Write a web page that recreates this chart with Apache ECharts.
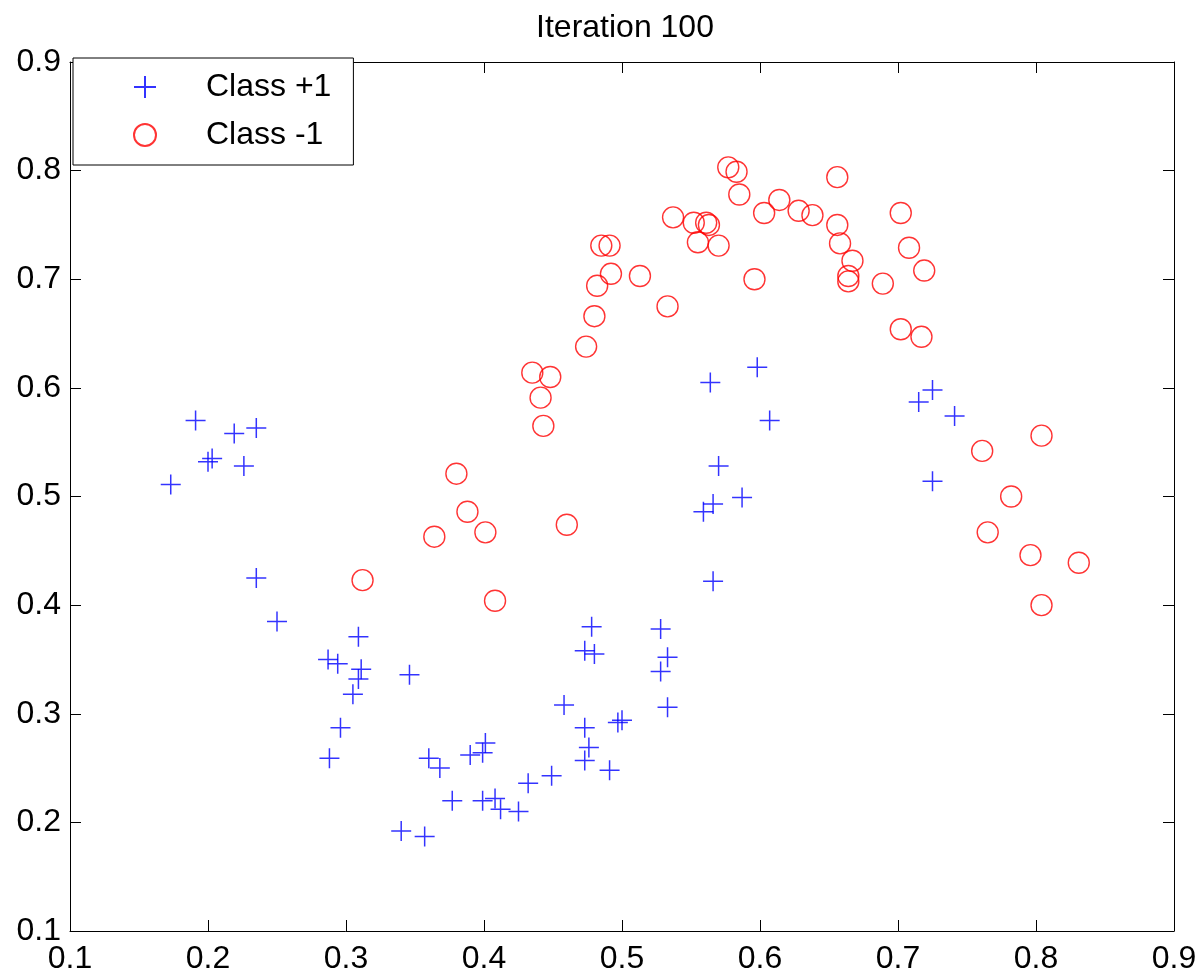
<!DOCTYPE html>
<html>
<head>
<meta charset="utf-8">
<title>Iteration 100</title>
<script src="https://cdn.jsdelivr.net/npm/echarts@6/dist/echarts.min.js"></script>
<style>
    html, body { margin: 0; padding: 0; background: #fff; }
    #chart { width: 1200px; height: 975px; }
</style>
</head>
<body>
<div id="chart"></div>
<script>
// 数据: 点坐标 [x, y]
const classPlus = [
    [0.173, 0.511], [0.191, 0.570], [0.219, 0.558], [0.235, 0.563], [0.200, 0.532],
    [0.203, 0.535], [0.226, 0.528], [0.235, 0.425], [0.250, 0.385], [0.309, 0.371],
    [0.287, 0.350], [0.294, 0.346], [0.311, 0.341], [0.309, 0.332], [0.346, 0.336],
    [0.305, 0.318], [0.296, 0.287], [0.288, 0.259], [0.360, 0.259], [0.368, 0.250],
    [0.401, 0.273], [0.399, 0.264], [0.390, 0.262], [0.458, 0.308], [0.432, 0.236],
    [0.449, 0.243], [0.377, 0.220], [0.399, 0.220], [0.408, 0.222], [0.412, 0.212],
    [0.425, 0.210], [0.340, 0.192], [0.357, 0.187], [0.478, 0.380], [0.473, 0.358],
    [0.480, 0.355], [0.528, 0.378], [0.533, 0.352], [0.528, 0.339], [0.533, 0.306],
    [0.473, 0.287], [0.497, 0.292], [0.500, 0.294], [0.476, 0.269], [0.473, 0.257],
    [0.491, 0.248], [0.566, 0.422], [0.564, 0.605], [0.598, 0.619], [0.607, 0.570],
    [0.570, 0.528], [0.587, 0.499], [0.566, 0.493], [0.559, 0.486], [0.715, 0.587],
    [0.725, 0.598], [0.741, 0.574], [0.725, 0.514]
];

const classMinus = [
    [0.312, 0.423], [0.364, 0.463], [0.380, 0.521], [0.388, 0.486], [0.401, 0.467],
    [0.408, 0.404], [0.460, 0.474], [0.435, 0.614], [0.448, 0.610], [0.441, 0.591],
    [0.443, 0.565], [0.474, 0.638], [0.480, 0.666], [0.482, 0.694], [0.485, 0.731],
    [0.491, 0.731], [0.492, 0.705], [0.513, 0.703], [0.533, 0.675], [0.537, 0.757],
    [0.552, 0.752], [0.561, 0.752], [0.563, 0.750], [0.555, 0.734], [0.570, 0.731],
    [0.577, 0.803], [0.583, 0.799], [0.585, 0.778], [0.596, 0.700], [0.603, 0.761],
    [0.614, 0.773], [0.628, 0.763], [0.638, 0.759], [0.656, 0.794], [0.656, 0.750],
    [0.658, 0.733], [0.667, 0.717], [0.664, 0.703], [0.664, 0.698], [0.689, 0.696],
    [0.702, 0.761], [0.708, 0.729], [0.719, 0.708], [0.702, 0.654], [0.717, 0.647],
    [0.761, 0.542], [0.804, 0.556], [0.782, 0.500], [0.765, 0.467], [0.796, 0.446],
    [0.831, 0.439], [0.804, 0.400]
];

const axisMin = 0.1;
const axisMax = 0.9;
const axisStep = 0.1;

const fontFamily = '"Liberation Sans", Arial, Helvetica, sans-serif';
const plusPath = 'path://M0,10L20,10M10,0L10,20';

const myChart = echarts.init(document.getElementById('chart'));

// 坐标轴公共配置
function makeAxis(position, showLabel, margin) {
    return {
        type: 'value',
        position: position,
        min: axisMin,
        max: axisMax,
        interval: axisStep,
        axisLine: { show: true, onZero: false, lineStyle: { color: '#000', width: 1 } },
        axisTick: { show: true, inside: true, length: 11, lineStyle: { color: '#000', width: 1 } },
        axisLabel: {
            show: showLabel,
            color: '#000',
            fontSize: 32,
            fontFamily: fontFamily,
            margin: margin,
            formatter: v => v.toFixed(1)
        },
        splitLine: { show: false }
    };
}

const option = {
    backgroundColor: '#fff',
    animation: false,
    title: {
        text: 'Iteration 100',
        left: 620,
        textAlign: 'center',
        top: 7,
        textStyle: {
            color: '#000',
            fontSize: 32,
            fontWeight: 'normal',
            fontFamily: fontFamily,
            lineHeight: 32
        }
    },
    grid: {
        left: 70,
        right: 26,
        top: 62,
        bottom: 42,
        containLabel: false
    },
    legend: {
        orient: 'vertical',
        left: 73,
        top: 58,
        padding: [13, 22, 14, 60],
        itemWidth: 22,
        itemHeight: 22,
        itemGap: 16,
        backgroundColor: '#fff',
        borderColor: '#000',
        borderWidth: 1,
        textStyle: {
            color: '#000',
            fontSize: 32,
            fontFamily: fontFamily,
            lineHeight: 32,
            padding: [0, 0, 0, 45]
        },
        data: ['Class +1', 'Class -1']
    },
    xAxis: [makeAxis('bottom', true, 12), makeAxis('top', false, 8)],
    yAxis: [makeAxis('left', true, 9), makeAxis('right', false, 8)],
    series: [
        {
            name: 'Class +1',
            type: 'scatter',
            data: classPlus,
            symbol: plusPath,
            symbolSize: 20,
            itemStyle: {
                color: 'rgba(0,0,0,0)',
                borderColor: '#0000ff',
                borderWidth: 1.5
            }
        },
        {
            name: 'Class -1',
            type: 'scatter',
            data: classMinus,
            symbol: 'circle',
            symbolSize: 21,
            itemStyle: {
                color: 'rgba(0,0,0,0)',
                borderColor: '#ff0000',
                borderWidth: 1.4
            }
        }
    ]
};

myChart.setOption(option);
</script>
</body>
</html>
